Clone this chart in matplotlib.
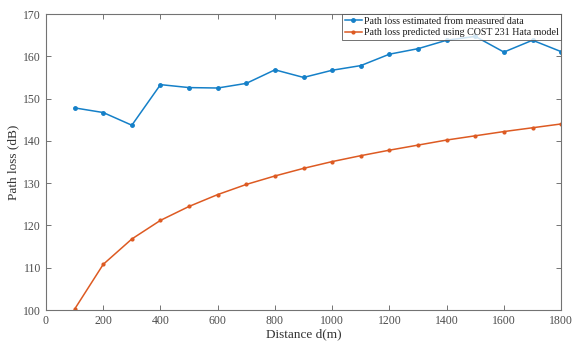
import matplotlib
matplotlib.use("Agg")
import matplotlib.pyplot as plt

plt.rcParams['font.family'] = ['Liberation Serif', 'DejaVu Serif']

distance = [100, 200, 300, 400, 500, 600, 700, 800, 900, 1000, 1100, 1200, 1300, 1400, 1500, 1600, 1700, 1800]
measured = [147.8, 146.7, 143.7, 153.3, 152.6, 152.5, 153.6, 156.8, 155.0, 156.7, 157.8, 160.5, 161.8, 163.8, 164.7, 161.0, 163.8, 161.1]
hata = [100.2, 110.8, 116.8, 121.2, 124.5, 127.3, 129.7, 131.7, 133.5, 135.1, 136.5, 137.8, 139.0, 140.2, 141.2, 142.2, 143.1, 144.0]
xticks = [0, 200, 400, 600, 800, 1000, 1200, 1400, 1600, 1800]
yticks = [100, 110, 120, 130, 140, 150, 160, 170]

fig = plt.figure(figsize=(5.72, 3.45), dpi=100)
ax = fig.add_axes([0.0804, 0.1014, 0.9006, 0.858])
ax.plot(distance, measured, color='#1580C8', marker='.', markersize=5, linewidth=1.1,
        label='Path loss estimated from measured data')
ax.plot(distance, hata, color='#DD5A22', marker='.', markersize=4, linewidth=1.1,
        label='Path loss predicted using COST 231 Hata model')
ax.set_xlim(0, 1800)
ax.set_ylim(100, 170)
ax.set_xticks(xticks)
ax.set_yticks(yticks)
for s in ax.spines.values():
    s.set_color('0.45')
    s.set_linewidth(0.8)
ax.tick_params(direction='in', top=True, right=True, colors='0.45', labelcolor='0.3',
               labelsize=8.5, length=3.5, width=0.7)
ax.set_xlabel('Distance d(m)', fontsize=9.5, color='0.2', labelpad=1)
ax.set_ylabel('Path loss (dB)', fontsize=9.5, color='0.2', labelpad=3)
leg = ax.legend(loc='upper right', fontsize=7.2, frameon=True, fancybox=False,
                borderpad=0.25, labelspacing=0.25, handlelength=1.7, handletextpad=0.2,
                borderaxespad=0.0)
leg.get_frame().set_edgecolor('0.3')
leg.get_frame().set_linewidth(0.7)
for t in leg.get_texts():
    t.set_color('0.1')
fig.savefig('out.png', dpi=100)
